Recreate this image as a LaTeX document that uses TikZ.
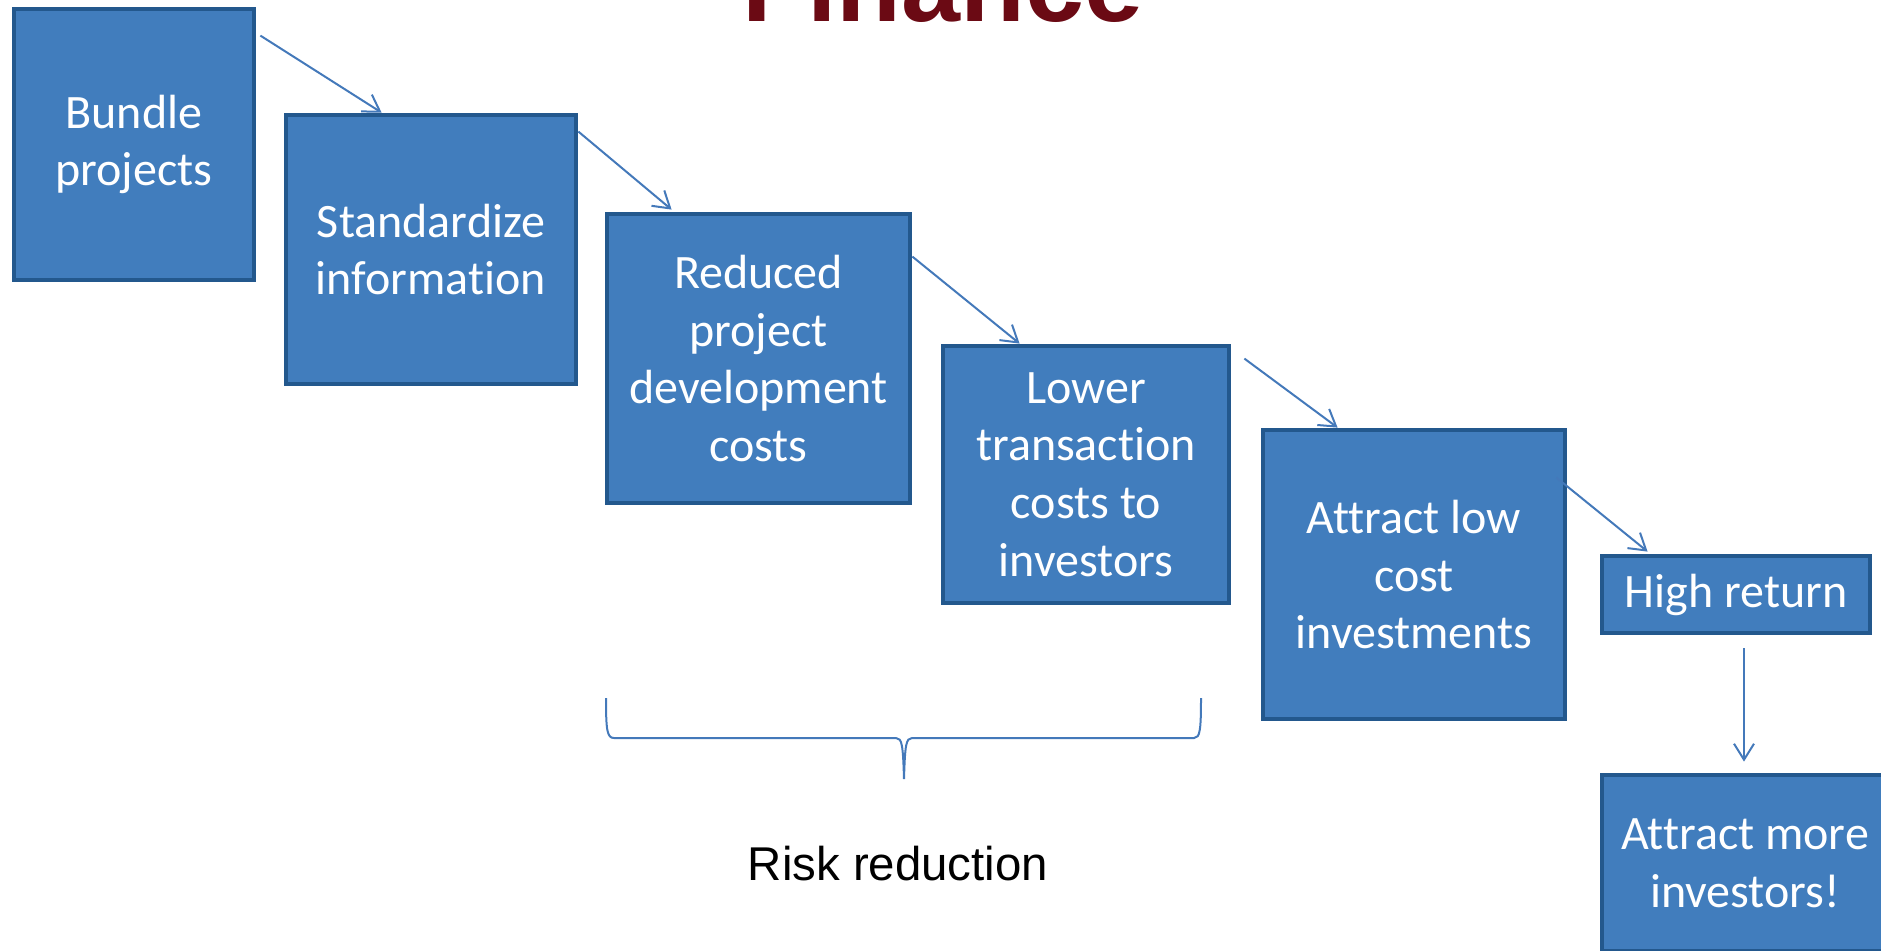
\documentclass[tikz,border=0pt]{standalone}
\usepackage{fontspec}
\setmainfont{Carlito}[Ligatures=NoCommon]
\newfontfamily\arialfont{Liberation Sans}
\usetikzlibrary{arrows.meta,calc}
\definecolor{boxfill}{HTML}{417DBD}
\definecolor{boxline}{HTML}{23588D}
\definecolor{linkblue}{HTML}{4479BA}
\definecolor{titlered}{HTML}{6B0A14}

\begin{document}
\begin{tikzpicture}[x=0.5pt,y=-0.5pt,block/.style={draw=boxline,fill=boxfill,line width=2.4pt,rectangle,align=center,text=white,inner sep=0pt,font=\fontsize{24}{28.8}\selectfont},arrow/.style={draw=linkblue,line width=1pt,-{Straight Barb[length=8pt,width=10pt]}}]
  \useasboundingbox (0,0) rectangle (1881,950);
  \clip (0,0) rectangle (1881,950);

  \node[font=\arialfont\bfseries\fontsize{53}{60}\selectfont,text=titlered,anchor=base] (title) at (943,21.5) {Finance};

  \node[block,minimum width=120pt,minimum height=135.5pt] (b1) at (134,144.5) {Bundle\\projects};
  \node[block,minimum width=145pt,minimum height=134.5pt] (b2) at (431,249.5) {Standardize\\information};
  \node[block,minimum width=151.5pt,minimum height=144.5pt] (b3) at (758.5,358.5) {Reduced\\project\\development\\costs};
  \node[block,minimum width=143pt,minimum height=128.5pt] (b4) at (1086,474.5) {Lower\\transaction\\costs to\\investors};
  \node[block,minimum width=151pt,minimum height=144.5pt] (b5) at (1414,574.5) {Attract low\\cost\\investments};
  \node[block,minimum width=134pt,minimum height=38.5pt] (b6) at (1736,594.5) {High return};
  \node[block,minimum width=143pt,minimum height=88pt] (b7) at (1745,863) {Attract more\\investors!};

  \foreach \s/\t/\sx/\sy/\tx/\ty in {b1/b2/4/29/98/0, b2/b3/0/19/67/-2, b3/b4/0/45/79/0, b4/b5/13/15/77/0, b5/b6/-11/50/48/-2}{
    \draw[arrow] ($(\s.north east)+(\sx,\sy)$) -- ($(\t.north west)+(\tx,\ty)$);
  }
  \draw[arrow] ($(b6.south)+(8,13)$) -- ($(b7.north)+(-1,-11)$);

  % brace under the middle boxes
  \draw[linkblue,line width=1pt] (606,698) .. controls (606,730) and (607,738) .. (614,738) -- (896,738) .. controls (902,738) and (903,745) .. (904,779) .. controls (905,745) and (906,738) .. (912,738) -- (1194,738) .. controls (1200,738) and (1201,730) .. (1201,698);
  \node[font=\arialfont\fontsize{23.7}{28}\selectfont,anchor=base] (risk) at (898,880) {Risk reduction};

\end{tikzpicture}
\end{document}
